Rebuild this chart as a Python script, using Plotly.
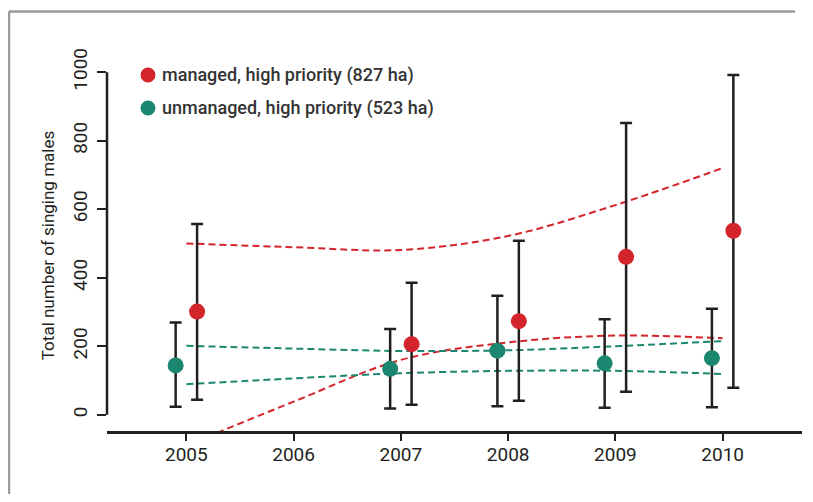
import plotly.graph_objects as go

# ---- data ----
years = [2005, 2007, 2008, 2009, 2010]
managed = [301, 206, 273, 461, 537]
managed_hi = [557, 385, 508, 852, 992]
managed_lo = [44, 29, 41, 67, 79]
unmanaged = [144, 134, 187, 150, 165]
unmanaged_hi = [269, 250, 347, 279, 309]
unmanaged_lo = [23, 18, 25, 20, 22]

trend_years = [2005, 2006, 2007, 2008, 2009, 2010]
managed_upper = [500, 489, 481, 522, 612, 720]
managed_lower = [-90, 38, 160, 211, 231, 223]
unmanaged_upper = [201, 193, 186, 188, 200, 215]
unmanaged_lower = [89, 106, 121, 128, 128, 119]

x_ticks = [2005, 2006, 2007, 2008, 2009, 2010]
y_ticks = [0, 200, 400, 600, 800, 1000]

legend_labels = ["managed, high priority (827 ha)", "unmanaged, high priority (523 ha)"]

RED = "#d4242b"
GREEN = "#1b8770"
INK = "#231f20"
FONT = "Roboto"

# page body has an 8px margin on every side; keep the figure inside the window
W, H = 797, 486
ML, MR, MT, MB = 99, 3, 52, 63
PW, PH = W - ML - MR, H - MT - MB


def px_x(page_x):
    return (page_x - 8 - ML) / PW


def px_y(page_y):
    return (H - MB - (page_y - 8)) / PH


fig = go.Figure()

dash = "7px,4px"
for vals, col in [(managed_upper, RED), (managed_lower, RED),
                  (unmanaged_upper, GREEN), (unmanaged_lower, GREEN)]:
    fig.add_trace(go.Scatter(x=trend_years, y=vals, mode="lines",
                             line=dict(color=col, width=2, dash=dash, shape="spline", smoothing=1.0),
                             showlegend=False, hoverinfo="skip"))


def add_series(xs, vals, hi, lo, col):
    fig.add_trace(go.Scatter(
        x=xs, y=vals, mode="markers",
        marker=dict(color=col, size=16, line=dict(width=0)),
        error_y=dict(type="data", symmetric=False,
                     array=[h - v for h, v in zip(hi, vals)],
                     arrayminus=[v - l for v, l in zip(vals, lo)],
                     color=INK, thickness=2.5, width=6),
        showlegend=False))


add_series([y - 0.1 for y in years], unmanaged, unmanaged_hi, unmanaged_lo, GREEN)
add_series([y + 0.1 for y in years], managed, managed_hi, managed_lo, RED)

shapes = []
# outer frame: left and top edges (right/bottom run off the page)
frame = dict(color="#9a9a9a", width=2.5)
shapes.append(dict(type="line", xref="paper", yref="paper",
                   x0=px_x(9), x1=px_x(9), y0=px_y(494), y1=px_y(11.5), line=frame, layer="below"))
shapes.append(dict(type="line", xref="paper", yref="paper",
                   x0=px_x(9), x1=px_x(795), y0=px_y(11.5), y1=px_y(11.5), line=frame, layer="below"))
# y axis line from 0 to 1000
shapes.append(dict(type="line", xref="paper", yref="paper", x0=0, x1=0,
                   y0=px_y(414.7), y1=px_y(72.2), line=dict(color=INK, width=2.5)))

annotations = []
for i, (lab, col) in enumerate(zip(legend_labels, [RED, GREEN])):
    ypaper = px_y(75 + i * 33)
    shapes.append(dict(type="circle", xref="paper", yref="paper",
                       xsizemode="pixel", ysizemode="pixel",
                       xanchor=px_x(148), yanchor=ypaper,
                       x0=-7.5, x1=7.5, y0=-7.5, y1=7.5,
                       fillcolor=col, line=dict(width=0)))
    annotations.append(dict(text=lab, xref="paper", yref="paper",
                            x=px_x(160), y=ypaper, xanchor="left", yanchor="middle",
                            showarrow=False,
                            font=dict(family=FONT, size=18, color="#333333", weight=500)))

fig.update_layout(
    width=W, height=H,
    margin=dict(l=ML, r=MR, t=MT, b=MB, autoexpand=False),
    paper_bgcolor="white", plot_bgcolor="white",
    font=dict(family=FONT, color=INK),
    shapes=shapes, annotations=annotations,
    showlegend=False,
)
fig.update_xaxes(range=[2004.26, 2010.74], tickvals=x_ticks, ticktext=[str(t) for t in x_ticks],
                 showgrid=False, zeroline=False, showline=True, linecolor=INK, linewidth=2.5,
                 ticks="outside", ticklen=7, tickwidth=2, tickcolor=INK, automargin=False,
                 ticklabelstandoff=-3,
                 tickfont=dict(family=FONT, size=19, color=INK))
fig.update_yaxes(range=[-47.6, 1035.6], tickvals=y_ticks, ticktext=[str(t) for t in y_ticks],
                 showgrid=False, zeroline=False, showline=False, automargin=False,
                 ticks="outside", ticklen=9, tickwidth=2, tickcolor=INK, tickangle=-90,
                 ticklabelstandoff=2,
                 tickfont=dict(family=FONT, size=19, color=INK),
                 title=dict(text="Total number of singing males", standoff=10,
                            font=dict(family=FONT, size=17, color=INK)))

fig.write_html("out.html")
